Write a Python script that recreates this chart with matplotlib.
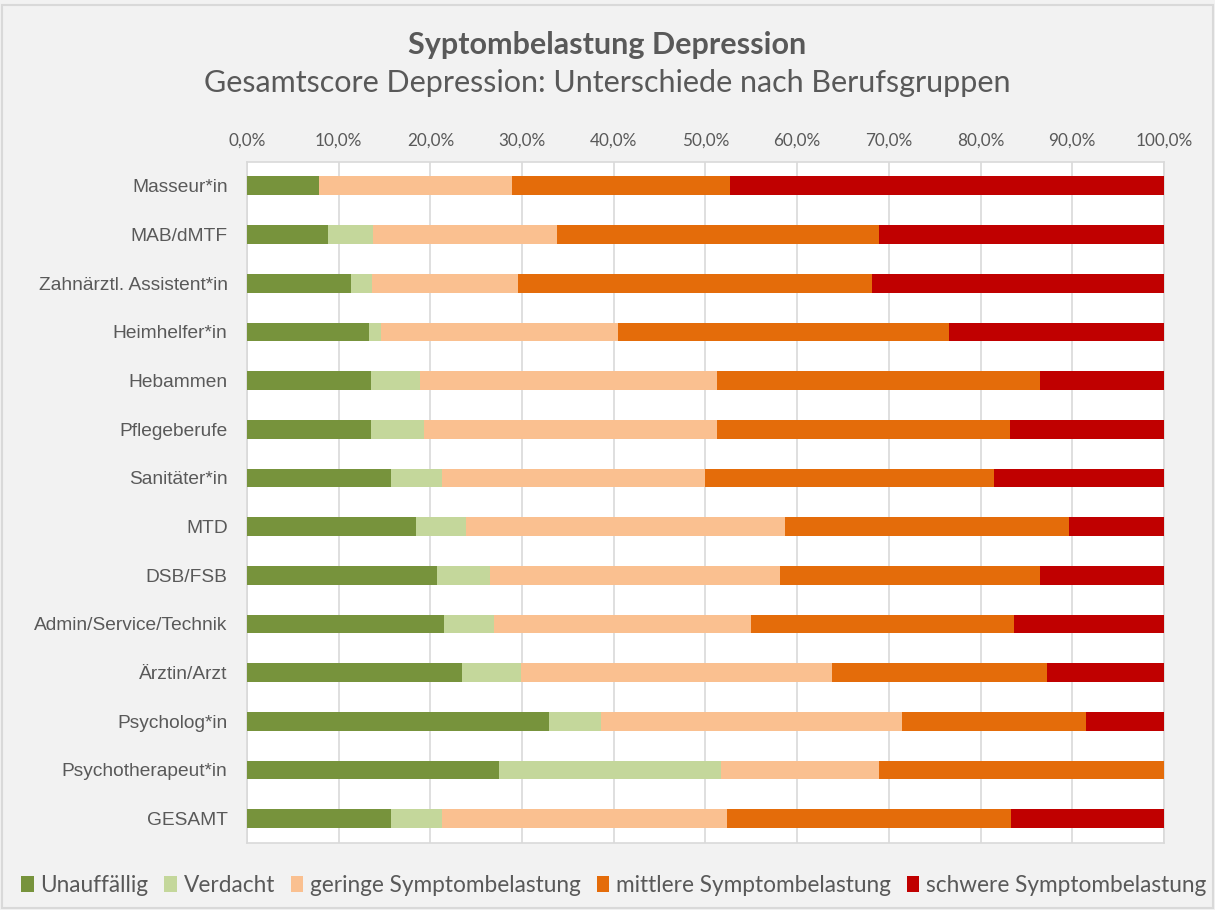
import numpy as np
import matplotlib
matplotlib.use("Agg")
import matplotlib.pyplot as plt
from matplotlib.patches import Rectangle
from matplotlib.ticker import FuncFormatter

plt.rcParams["font.family"] = ["Lato", "DejaVu Sans"]

gruppen = ["Masseur*in", "MAB/dMTF", "Zahnärztl. Assistent*in", "Heimhelfer*in",
           "Hebammen", "Pflegeberufe", "Sanitäter*in", "MTD", "DSB/FSB",
           "Admin/Service/Technik", "Ärztin/Arzt", "Psycholog*in",
           "Psychotherapeut*in", "GESAMT"]
unauffaellig = [7.8, 8.8, 11.3, 13.3, 13.5, 13.5, 15.7, 18.4, 20.7, 21.5, 23.4, 32.9, 27.5, 15.7]
verdacht     = [0.0, 4.9, 2.3, 1.3, 5.4, 5.8, 5.6, 5.5, 5.8, 5.4, 6.5, 5.7, 24.2, 5.6]
gering       = [21.1, 20.1, 16.0, 25.9, 32.4, 32.0, 28.7, 34.8, 31.6, 28.1, 33.9, 32.8, 17.2, 31.1]
mittel       = [23.8, 35.1, 38.6, 36.1, 35.2, 31.9, 31.5, 30.9, 28.4, 28.6, 23.4, 20.1, 31.1, 30.9]
schwer       = [47.5, 31.1, 31.8, 23.4, 13.5, 16.8, 18.5, 10.4, 13.5, 16.4, 12.8, 8.5, 0.0, 16.7]

serien = ["Unauffällig", "Verdacht", "geringe Symptombelastung",
          "mittlere Symptombelastung", "schwere Symptombelastung"]
farben = ["#77933C", "#C4D79B", "#FAC090", "#E46C0A", "#C00000"]
werte = [unauffaellig, verdacht, gering, mittel, schwer]
grau = "#595959"

fig = plt.figure(figsize=(12.15, 9.1), dpi=100, facecolor="#F2F2F2")
fig.patches.append(Rectangle((0.002, 0.002), 0.996, 0.992, transform=fig.transFigure,
                             fill=False, edgecolor="#D9D9D9", lw=1.5))
ax = fig.add_axes([0.2033, 0.0737, 0.7547, 0.7488])
ax.set_facecolor("white")

y = np.arange(len(gruppen))
links = np.zeros(len(gruppen))
for name, col, v in zip(serien, farben, werte):
    v = np.array(v)
    ax.barh(y, v, left=links, height=0.385, color=col, label=name, zorder=3)
    links += v

ax.set_xlim(0, 100)
ax.set_ylim(len(gruppen) - 0.5, -0.5)
ax.set_xticks(np.arange(0, 101, 10))
ax.xaxis.set_major_formatter(FuncFormatter(lambda x, p: f"{x:.1f}%".replace(".", ",")))
ax.xaxis.tick_top()
ax.set_yticks(y)
ax.set_yticklabels(gruppen, fontfamily="Liberation Sans")
ax.tick_params(axis="x", length=0, labelsize=12.3, labelcolor=grau, pad=9)
ax.tick_params(axis="y", length=0, labelsize=13.8, labelcolor=grau, pad=14)
ax.grid(axis="x", color="#D9D9D9", lw=1.2, zorder=0)
for s in ax.spines.values():
    s.set_color("#D9D9D9")
    s.set_linewidth(1.2)

fig.text(0.5, 0.9505, "Syptombelastung Depression", ha="center", va="center",
         fontsize=22, fontweight="bold", color=grau)
fig.text(0.5, 0.9088, "Gesamtscore Depression: Unterschiede nach Berufsgruppen",
         ha="center", va="center", fontsize=22, color=grau)

fig.legend(loc="center", bbox_to_anchor=(0.505, 0.027), ncol=5, frameon=False,
           fontsize=16.3, labelcolor=grau, handlelength=0.55, handleheight=0.75,
           handletextpad=0.3, columnspacing=0.7)

fig.savefig("out.png", dpi=100, facecolor=fig.get_facecolor())
